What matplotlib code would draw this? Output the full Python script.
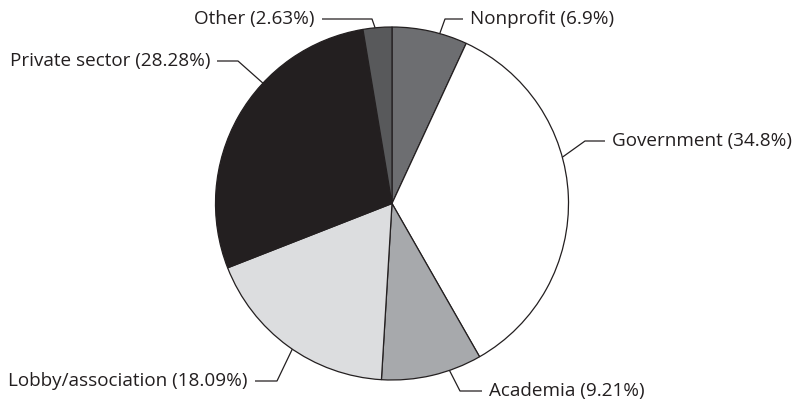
import numpy as np
from matplotlib import pyplot as plt

labels = ['Nonprofit', 'Government', 'Academia', 'Lobby/association', 'Private sector', 'Other']
shares = [6.9, 34.8, 9.21, 18.09, 28.28, 2.63]
colors = ['#6d6e71', '#ffffff', '#a7a9ac', '#dcdddf', '#231f20', '#58595b']

W, H = 799, 405
cx, cy, r = 392, 203.5, 176.5  # pie centre/radius in pixels (y from top)

# leader layout: angle on the rim, elbow point, end of the horizontal run
leaders = {
    'Nonprofit':         (74.3,  (445, 19),  (463, 19),  'left'),
    'Government':        (15.2,  (585, 141), (605, 141), 'left'),
    'Academia':          (-71.0, (460, 391), (482, 391), 'left'),
    'Lobby/association': (235.6, (277, 381), (255, 381), 'right'),
    'Private sector':    (137.0, (238, 61),  (217, 61),  'right'),
    'Other':             (95.5,  (372, 19),  (322, 19),  'right'),
}

plt.rcParams['font.family'] = ['Open Sans', 'DejaVu Sans']
fig = plt.figure(figsize=(W / 100, H / 100), dpi=100)
ax = fig.add_axes([0, 0, 1, 1])

ax.pie(shares, colors=colors, startangle=90, counterclock=False,
       center=(cx, H - cy), radius=r,
       wedgeprops=dict(edgecolor='#231f20', linewidth=0.9))

for name, share in zip(labels, shares):
    ang, elbow, end, ha = leaders[name]
    a = np.deg2rad(ang)
    x0, y0 = cx + r * np.cos(a), H - cy + r * np.sin(a)
    ax.plot([x0, elbow[0], end[0]], [y0, H - elbow[1], H - end[1]],
            color='#231f20', lw=0.9, solid_capstyle='butt')
    tx = end[0] + 7 if ha == 'left' else end[0] - 7
    ax.text(tx, H - end[1], f'{name} ({share}%)', ha=ha, va='center',
            fontsize=13.6, color='#231f20')

ax.set_xlim(0, W)
ax.set_ylim(0, H)
ax.set_aspect('auto')
ax.axis('off')
fig.savefig('out.png', dpi=100)
